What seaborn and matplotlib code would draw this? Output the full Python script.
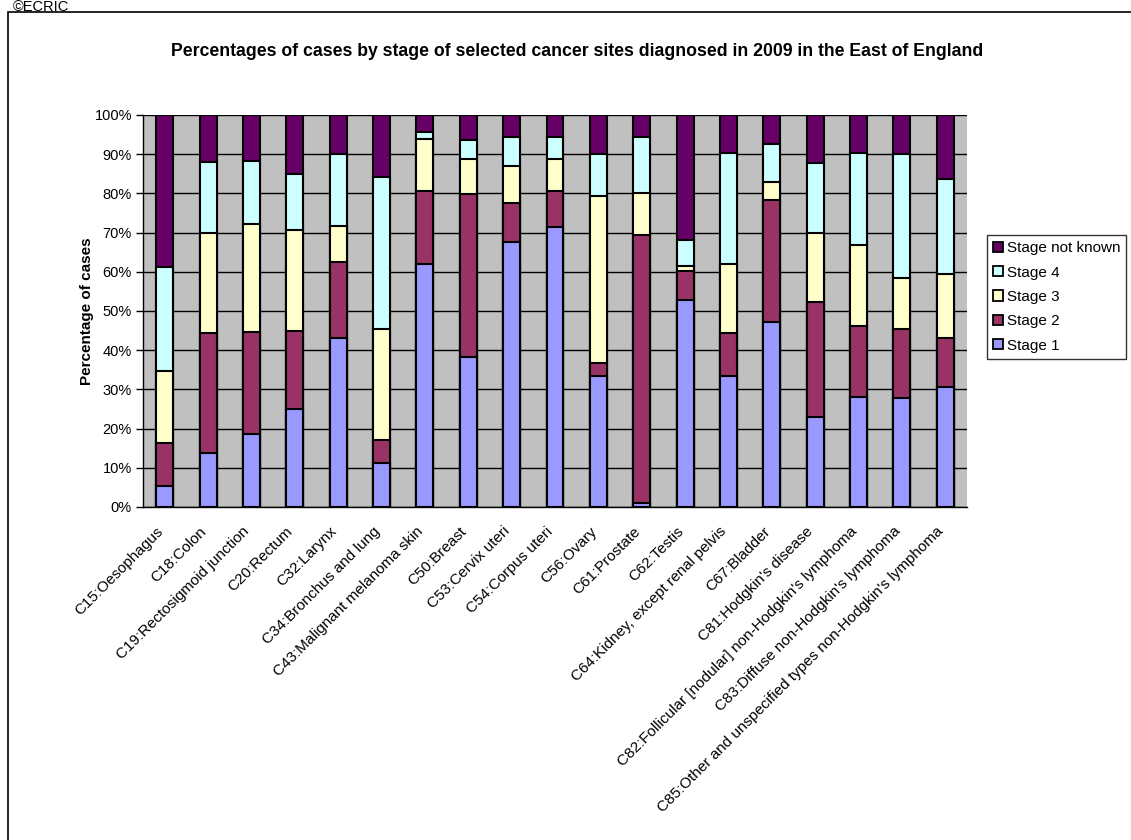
import numpy as np
import pandas as pd
import seaborn as sns
import matplotlib.pyplot as plt
import matplotlib.transforms as mtransforms
from matplotlib.patches import Patch, Rectangle

sites = ["C15:Oesophagus", "C18:Colon", "C19:Rectosigmoid junction", "C20:Rectum",
         "C32:Larynx", "C34:Bronchus and lung", "C43:Malignant melanoma skin",
         "C50:Breast", "C53:Cervix uteri", "C54:Corpus uteri", "C56:Ovary",
         "C61:Prostate", "C62:Testis", "C64:Kidney, except renal pelvis",
         "C67:Bladder", "C81:Hodgkin's disease",
         "C82:Follicular [nodular] non-Hodgkin's lymphoma",
         "C83:Diffuse non-Hodgkin's lymphoma",
         "C85:Other and unspecified types non-Hodgkin's lymphoma"]

stage1 = [5.3, 13.8, 18.5, 24.9, 43.1, 11.1, 61.9, 38.3, 67.7, 71.5, 33.5, 1.0, 52.8, 33.4, 47.2, 23.0, 28.1, 27.7, 30.5]
stage2 = [11.0, 30.5, 26.2, 20.0, 19.5, 5.9, 18.8, 41.5, 9.9, 9.2, 3.3, 68.4, 7.4, 10.9, 31.1, 29.3, 18.1, 17.6, 12.6]
stage3 = [18.4, 25.5, 27.5, 25.7, 9.1, 28.3, 13.3, 8.9, 9.5, 8.0, 42.6, 10.8, 1.3, 17.7, 4.5, 17.7, 20.6, 13.2, 16.3]
stage4 = [26.6, 18.2, 16.1, 14.3, 18.3, 38.8, 1.6, 4.9, 7.4, 5.6, 10.6, 14.3, 6.6, 28.2, 9.8, 17.7, 23.4, 31.5, 24.2]
not_known = [38.7, 12.0, 11.7, 15.1, 10.0, 15.9, 4.4, 6.4, 5.5, 5.7, 10.0, 5.5, 31.9, 9.8, 7.4, 12.3, 9.8, 10.0, 16.4]

stage_names = ["Stage 1", "Stage 2", "Stage 3", "Stage 4", "Stage not known"]
stage_colors = ["#9999FF", "#993366", "#FFFFCC", "#CCFFFF", "#660066"]

df = pd.DataFrame({"site": sites, "Stage 1": stage1, "Stage 2": stage2,
                   "Stage 3": stage3, "Stage 4": stage4, "Stage not known": not_known})
cum = df[stage_names].cumsum(axis=1)

sns.set_style("white")
plt.rcParams['font.family'] = ['Liberation Sans', 'DejaVu Sans']
plt.rcParams['text.color'] = 'black'
plt.rcParams['axes.labelcolor'] = 'black'
plt.rcParams['xtick.color'] = 'black'
plt.rcParams['ytick.color'] = 'black'

fig = plt.figure(figsize=(11.31, 8.40), dpi=100)
ax = fig.add_axes([143/1131, 1 - 507/840, (967 - 143)/1131, (507 - 115)/840])
ax.set_facecolor("#C0C0C0")

# stacked bars: draw cumulative heights from the top stage down
for name, col in zip(reversed(stage_names), reversed(stage_colors)):
    sns.barplot(x=df["site"], y=cum[name], color=col, saturation=1, edgecolor="black",
                linewidth=1.5, width=0.39, ax=ax, zorder=3)

ax.set_ylim(0, 100)
ax.set_xlim(-0.5, len(sites) - 0.5)
ax.set_yticks(np.arange(0, 101, 10))
ax.set_yticklabels([f"{v}%" for v in range(0, 101, 10)], fontsize=10.5)
ax.yaxis.grid(True, color="black", linewidth=1, zorder=1)
ax.set_axisbelow(True)

ax.set_xticks(range(len(sites)))
ax.set_xticklabels(sites, rotation=45, ha="right", va="center", rotation_mode="anchor", fontsize=11)
ax.set_xticks(np.arange(-0.5, len(sites), 1), minor=True)
ax.tick_params(axis="x", which="major", length=0, pad=16)
ax.tick_params(axis="x", which="minor", length=5, width=1, color="black", direction="out")
ax.tick_params(axis="y", which="major", length=5, width=1, color="black", direction="out", left=True, pad=3)

# nudge the slanted labels a little to the left, as in the original
shift = mtransforms.ScaledTranslation(-4/100, 0, fig.dpi_scale_trans)
for lbl in ax.get_xticklabels():
    lbl.set_transform(lbl.get_transform() + shift)

for s in ["top", "right"]:
    ax.spines[s].set_visible(False)
for s in ["left", "bottom"]:
    ax.spines[s].set_color("black")
    ax.spines[s].set_linewidth(1)

ax.set_xlabel("")
ax.set_ylabel("Percentage of cases", fontsize=11, fontweight="bold", labelpad=0)

fig.text(577/1131, 1 - 52/840, "Percentages of cases by stage of selected cancer sites diagnosed in 2009 in the East of England",
         ha="center", va="center", fontsize=12.7, fontweight="bold")

handles = [Patch(facecolor=c, edgecolor="black", linewidth=1.3, label=n)
           for n, c in zip(reversed(stage_names), reversed(stage_colors))]
leg = fig.legend(handles=handles, loc="upper left", bbox_to_anchor=(987/1131, 1 - 235/840),
                 bbox_transform=fig.transFigure, fancybox=False, frameon=True,
                 fontsize=11, handlelength=0.65, handleheight=0.65, handletextpad=0.25,
                 labelspacing=0.68, borderpad=0.4, borderaxespad=0)
leg.get_frame().set_edgecolor("black")
leg.get_frame().set_linewidth(1)

# outer chart border and source note
fig.patches.append(Rectangle((8/1131, -0.01), 1.0, 1 - 12/840 + 0.01, transform=fig.transFigure,
                             fill=False, edgecolor="black", linewidth=1.2))
fig.text(13/1131, 1 - 11/840, "©ECRIC", ha="left", va="baseline", fontsize=10.5)

fig.savefig("out.png", dpi=100)
